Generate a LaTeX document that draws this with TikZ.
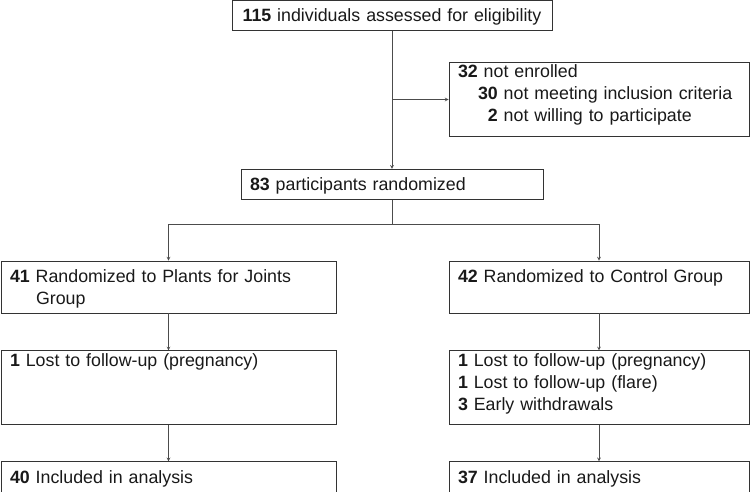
\documentclass[tikz,border=0pt]{standalone}
\usepackage{fontspec}
\setmainfont{Liberation Sans}
\usetikzlibrary{arrows, positioning}
\tikzstyle{flowbox} = [rectangle, draw=black!80, line width=0.9pt, inner xsep=9pt, inner ysep=0pt, align=left, text=black!90, font=\fontsize{17.8}{22}\selectfont]
\tikzstyle{onebox} = [flowbox, text height=21.5pt, text depth=9pt]
\tikzstyle{groupbox} = [flowbox, text height=21pt, text depth=31pt]
\tikzstyle{tallbox} = [flowbox, text height=15.5pt, text depth=58.5pt]
\tikzstyle{arrow} = [draw=black!70, line width=0.7pt, ->, >=stealth]
\tikzstyle{line} = [draw=black!70, line width=0.7pt]

\begin{document}
\begin{tikzpicture}[x=1pt, y=-1pt, node distance = 37pt]
	\useasboundingbox (0,0) rectangle (750,492);
	\node (assess) [onebox, text width=302pt, align=center] at (392,15.5) {\textbf{115} individuals assessed for eligibility};
	\node (excl) [tallbox, text width=282pt] at (599,99.5) {\textbf{32} not enrolled\\
		\hspace*{20pt}\textbf{30} not meeting inclusion criteria\\
		\hspace*{20pt}\phantom{\textbf{3}}\textbf{2} not willing to participate};
	\node (rand) [onebox, text width=284pt] at (392,184.5) {\textbf{83} participants randomized};
	\node (plants) [groupbox, text width=317pt] at (168.5,287) {\textbf{41} Randomized to Plants for Joints\\
		\hspace*{26pt}Group};
	\node (control) [groupbox, text width=282pt] at (599,287) {\textbf{42} Randomized to Control Group};
		\node (lostP) [tallbox, text width=317pt, below = of plants] {\textbf{1} Lost to follow-up (pregnancy)};
		\node (lostC) [tallbox, text width=282pt, below = of control] {\textbf{1} Lost to follow-up (pregnancy)\\
			\textbf{1} Lost to follow-up (flare)\\
			\textbf{3} Early withdrawals};
		\node (inclP) [onebox, text width=317pt, below = 36pt of lostP] {\textbf{40} Included in analysis};
		\node (inclC) [onebox, text width=282pt, below = 36pt of lostC] {\textbf{37} Included in analysis};
	\coordinate (split) at ([yshift=-24pt]rand.south);
	\draw [arrow] (assess) -- (rand);
	\draw [arrow] (assess.south |- excl.west) -- (excl.west);
	\draw [line] (rand) -- (split);
	\draw [arrow] (split) -| (plants);
	\draw [arrow] (split) -| (control);
	\draw [arrow] (plants) -- (lostP);
	\draw [arrow] (control) -- (lostC);
	\draw [arrow] (lostP) -- (inclP);
	\draw [arrow] (lostC) -- (inclC);
	\end{tikzpicture}
\end{document}
